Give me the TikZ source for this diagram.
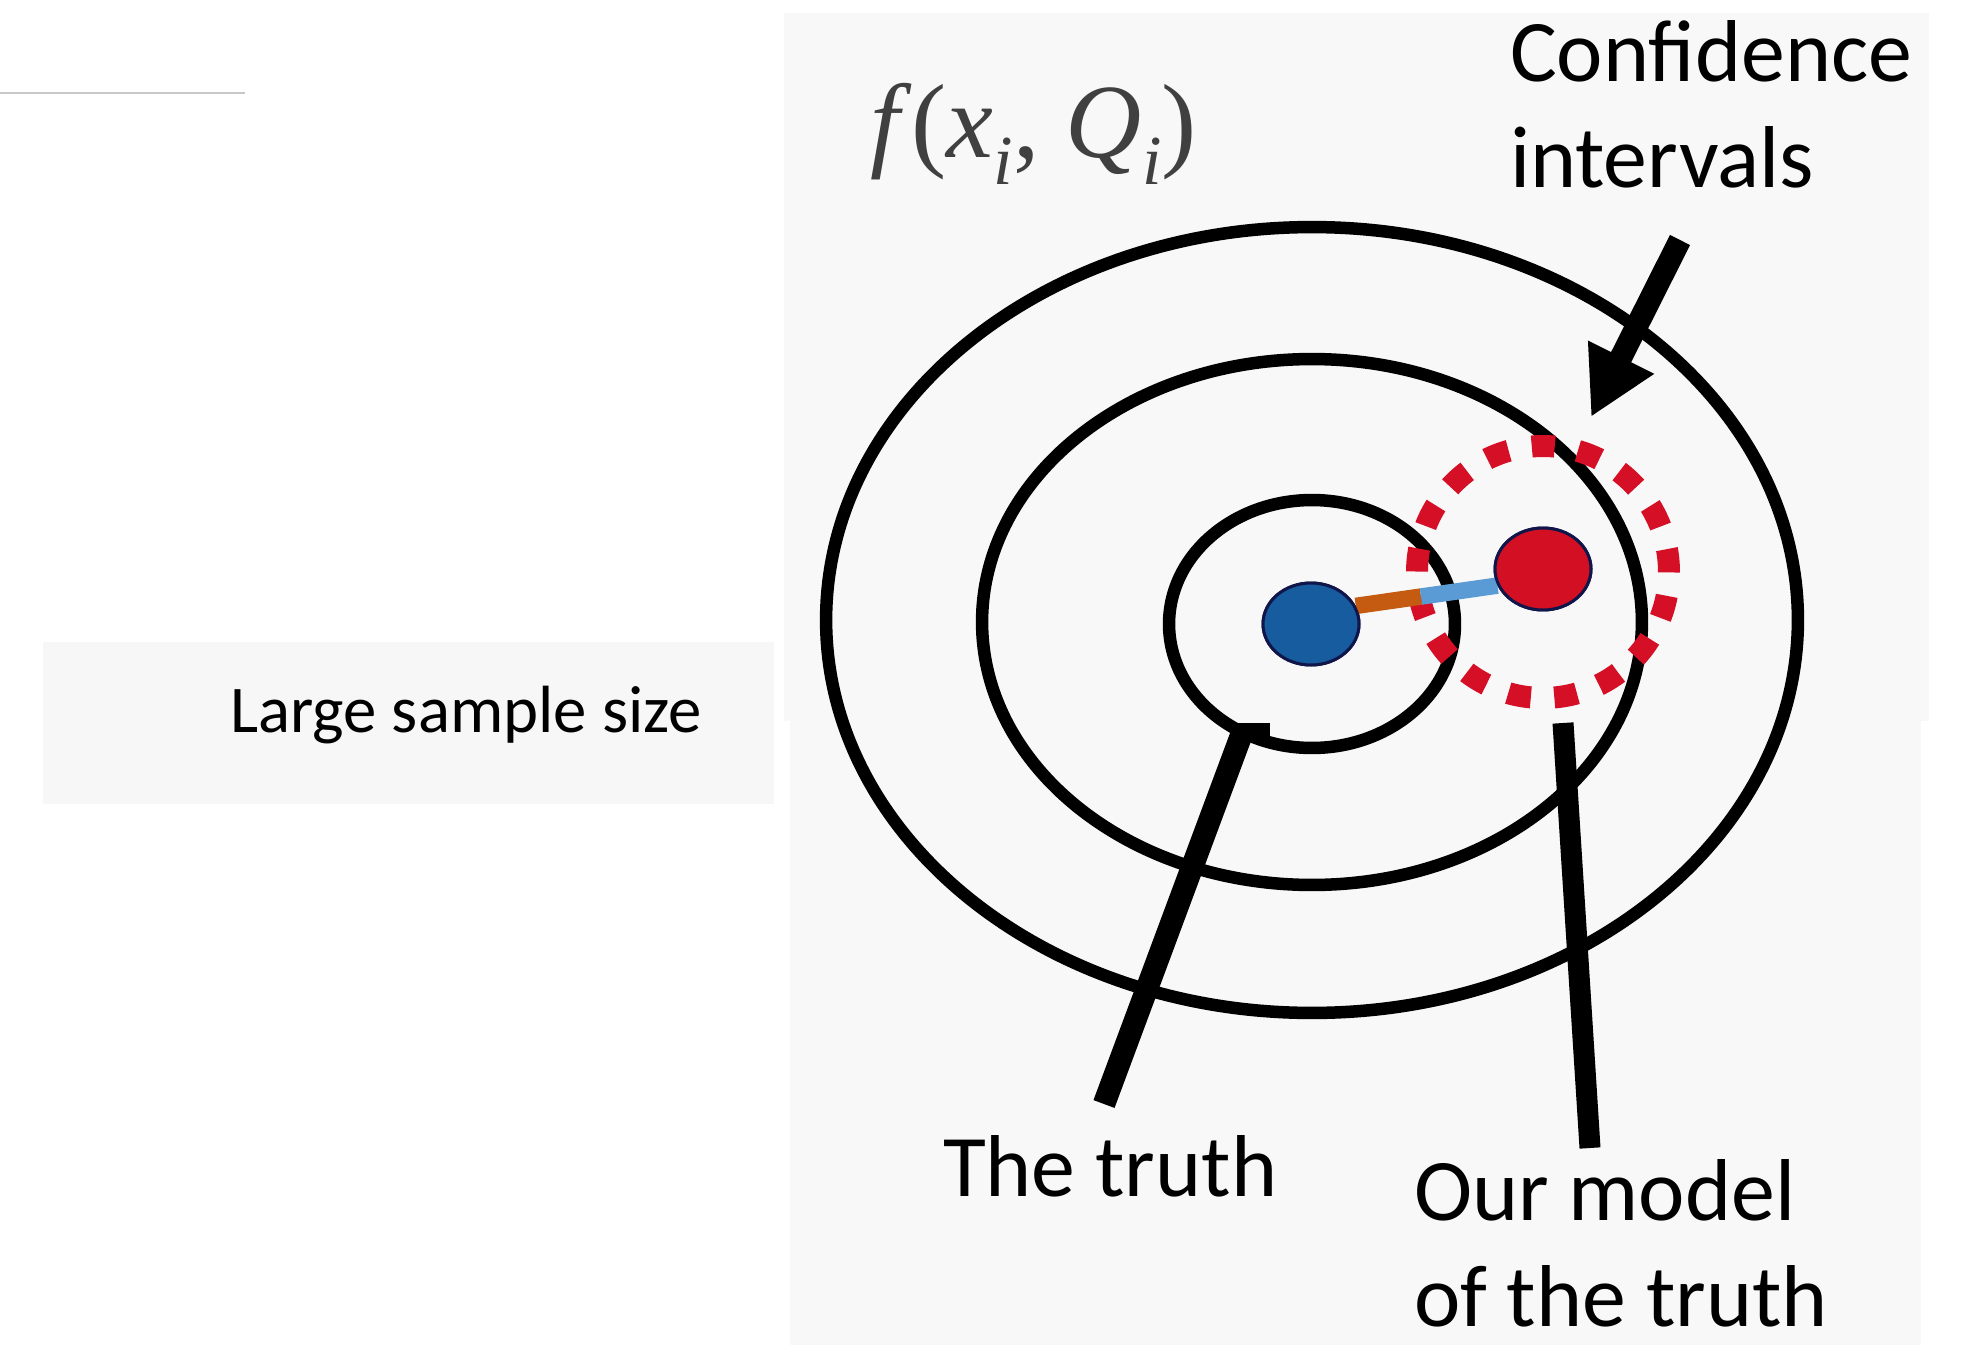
\documentclass[tikz,border=0pt]{standalone}
\usepackage{fontspec}
\setmainfont{Carlito}
\newfontfamily\tmsfont{Liberation Serif}
\usetikzlibrary{arrows.meta,calc,shapes.geometric}
\definecolor{panelbg}{HTML}{F8F8F8}
\definecolor{boxbg}{HTML}{F7F7F7}
\definecolor{rulegray}{HTML}{C8C8C8}
\definecolor{fxgray}{HTML}{404040}
\definecolor{truthblue}{HTML}{175C9E}
\definecolor{modelred}{HTML}{D20F23}
\definecolor{dotedge}{HTML}{10164A}
\definecolor{cired}{HTML}{D40F26}
\definecolor{segorange}{HTML}{C55A11}
\definecolor{seglblue}{HTML}{5B9BD5}
\tikzset{
  ring/.style={draw=black, line width=0.25cm, ellipse, inner sep=0pt, outer sep=0pt},
  dotnode/.style={ellipse, draw=dotedge, line width=0.06cm, inner sep=0pt,
    minimum width=1.92cm, minimum height=1.64cm},
  cicircle/.style={circle, draw=cired, line width=0.44cm, inner sep=0pt,
    minimum size=5.04cm, dash pattern=on 0.46cm off 0.471cm},
  pointer/.style={line width=0.45cm, black},
  seg/.style={line width=0.33cm},
  lbl/.style={inner sep=0pt, outer sep=0pt, font=\fontsize{50}{60}\selectfont},
}
\begin{document}
\begin{tikzpicture}[x=0.02cm, y=-0.02cm]
\useasboundingbox (0,0) rectangle (1977,1345);
\fill[white] (0,0) rectangle (1977,1345);
% panels
\fill[panelbg] (784,13) rectangle (1929,721);
\fill[panelbg] (790,721) rectangle (1921,1345);
\fill[boxbg] (43,642) rectangle (774,804);
% top-left rule
\coordinate (ruleA) at (0,93);
\coordinate (ruleB) at (245,93);
\draw[rulegray, line width=0.04cm] (ruleA) -- (ruleB);
% rings
\node[ring, minimum width=19.44cm, minimum height=15.72cm] (outer) at (1312,620) {};
\node[ring, minimum width=13.2cm, minimum height=10.52cm] (middle) at (1312,622) {};
\node[ring, minimum width=5.72cm, minimum height=4.96cm] (inner) at (1312,624) {};
% confidence interval
\node[cicircle] (ci) at (1543,572) {};
% dots and connector
\node[dotnode, fill=truthblue] (truth) at (1311,624) {};
\node[dotnode, fill=modelred] (model) at (1543,569) {};
\coordinate (segA) at (truth.22);
\coordinate (segB) at (model.200);
\coordinate (segM) at ($(segA)!0.46!(segB)$);
\draw[seg, segorange] (segA) -- (segM);
\draw[seg, seglblue] (segM) -- (segB);
\node[dotnode, fill=truthblue] at (truth) {};
\node[dotnode, fill=modelred] at (model) {};
% pointer lines
\coordinate (truthTop) at (1248,717);
\coordinate (truthEnd) at (1104,1104);
\coordinate (modelTop) at (1563,723);
\coordinate (modelEnd) at (1590,1148);
\begin{scope}
\clip (0,723) rectangle (1977,1345);
\draw[pointer] (truthTop) -- (truthEnd);
\end{scope}
\fill[black] (1233,723) rectangle (1270,741);
\draw[pointer, line width=0.42cm] (modelTop) -- (modelEnd);
% arrow to confidence interval
\coordinate (ciTail) at (1680,240);
\coordinate (ciTip) at (1591,417);
\draw[line width=0.45cm, -{Triangle[length=1.34cm, width=1.38cm]}] (ciTail) -- (ciTip);
% texts
\node[lbl, anchor=base west, align=left] (cilbl) at (1510,187) {Confidence\\intervals};
\node[lbl, anchor=base west] (truthlbl) at (943,1196) {The truth};
\node[lbl, anchor=base west, align=left] (modellbl) at (1414,1326) {Our model\\of the truth};
\node[inner sep=0pt, anchor=base west, font=\fontsize{38}{46}\selectfont] (lss) at (230,732) {Large sample size};
\node[inner sep=0pt, anchor=base west, text=fxgray, font=\tmsfont\fontsize{60}{64}\selectfont] (fx) at (870,157)
  {\textit{f}(\textit{x}\raisebox{-0.26em}{\fontsize{40}{42}\selectfont\textit{i}}, \textit{Q}\raisebox{-0.26em}{\fontsize{40}{42}\selectfont\textit{i}})};
\end{tikzpicture}
\end{document}
